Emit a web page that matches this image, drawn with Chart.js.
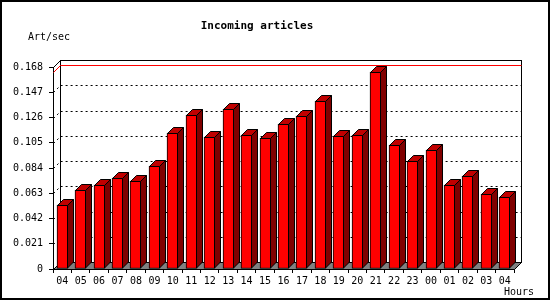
<!DOCTYPE html>
<html>
<head>
<meta charset="utf-8">
<script src="https://cdn.jsdelivr.net/npm/chart.js@4"></script>
<style>
  html, body { margin: 0; padding: 0; background: #fff; }
  #chart { display: block; }
</style>
</head>
<body>
<canvas id="chart" width="550" height="300"></canvas>
<script>
var hours = ['04', '05', '06', '07', '08', '09', '10', '11', '12', '13', '14', '15', '16',
             '17', '18', '19', '20', '21', '22', '23', '00', '01', '02', '03', '04'];
var artPerSec = [0.0535, 0.066, 0.070, 0.0757, 0.0734, 0.0856, 0.113, 0.128, 0.1097, 0.133,
                 0.1114, 0.1089, 0.1205, 0.1271, 0.1398, 0.1105, 0.1114, 0.1637, 0.1031,
                 0.0898, 0.0989, 0.0701, 0.0776, 0.0624, 0.0599];
var yMax = 0.168;
var yStep = 0.021;

var MONO = "'DejaVu Sans Mono', monospace";
var DX = 7, DY = 7;     // depth of the box
var BDX = 6, BDY = 6;   // depth of the bars

var box3d = {
    id: 'box3d',
    beforeDatasetsDraw: function (chart) {
        var ctx = chart.ctx, a = chart.chartArea, ys = chart.scales.y;
        var L = Math.round(a.left) + 0.5, R = Math.round(a.right) + 0.5;
        var T = Math.round(a.top) + 0.5, B = Math.round(a.bottom) + 0.5;
        ctx.save();
        ctx.lineWidth = 1;
        ctx.strokeStyle = '#000';
        // floor
        ctx.beginPath();
        ctx.moveTo(L, B); ctx.lineTo(R, B); ctx.lineTo(R + DX, B - DY); ctx.lineTo(L + DX, B - DY);
        ctx.closePath();
        ctx.fillStyle = '#808080';
        ctx.fill();
        ctx.stroke();
        // back wall
        ctx.strokeRect(L + DX, T - DY, R - L, B - T);
        // left top edge
        ctx.beginPath(); ctx.moveTo(L, T); ctx.lineTo(L + DX, T - DY); ctx.stroke();
        // dotted grid
        ctx.setLineDash([2, 3]);
        ys.ticks.forEach(function (t) {
            if (t.value <= 0 || t.value >= yMax - 1e-9) return;
            var py = Math.round(ys.getPixelForValue(t.value)) + 0.5;
            ctx.beginPath();
            ctx.moveTo(L, py); ctx.lineTo(L + DX, py - DY); ctx.lineTo(R + DX, py - DY);
            ctx.stroke();
        });
        ctx.setLineDash([]);
        // max line
        var my = Math.round(ys.getPixelForValue(Math.max.apply(null, artPerSec))) + 0.5;
        ctx.strokeStyle = '#ff0000';
        ctx.beginPath();
        ctx.moveTo(L, my); ctx.lineTo(L + DX, my - DY); ctx.lineTo(R + DX, my - DY);
        ctx.stroke();
        ctx.restore();

        // snap bars to whole pixels
        chart.getDatasetMeta(0).data.forEach(function (bar) {
            bar.x = Math.floor(bar.x) + 0.5;
            bar.y = Math.round(bar.y);
        });
    },
    afterDatasetsDraw: function (chart) {
        var ctx = chart.ctx;
        ctx.save();
        ctx.lineWidth = 1;
        ctx.strokeStyle = '#000';
        chart.getDatasetMeta(0).data.forEach(function (bar) {
            var xl = bar.x - bar.width / 2 + 0.5, xr = bar.x + bar.width / 2 - 0.5;
            var top = bar.y + 0.5, bot = bar.base - 0.5;
            // side
            ctx.beginPath();
            ctx.moveTo(xr, top); ctx.lineTo(xr + BDX, top - BDY); ctx.lineTo(xr + BDX, bot - BDY); ctx.lineTo(xr, bot);
            ctx.closePath();
            ctx.fillStyle = '#800000'; ctx.fill(); ctx.stroke();
            // top
            ctx.beginPath();
            ctx.moveTo(xl, top); ctx.lineTo(xl + BDX, top - BDY); ctx.lineTo(xr + BDX, top - BDY); ctx.lineTo(xr, top);
            ctx.closePath();
            ctx.fillStyle = '#c00000'; ctx.fill(); ctx.stroke();
        });
        ctx.restore();
    },
    afterDraw: function (chart) {
        var ctx = chart.ctx;
        ctx.save();
        ctx.fillStyle = '#000';
        ctx.font = '10px ' + MONO;
        ctx.textBaseline = 'middle';
        ctx.textAlign = 'left';
        ctx.fillText('Art/sec', 28, 37);
        ctx.textAlign = 'right';
        ctx.fillText('Hours', 534, 292);
        ctx.strokeStyle = '#000';
        ctx.lineWidth = 2;
        ctx.strokeRect(1, 1, 548, 298);
        ctx.restore();
    }
};

new Chart(document.getElementById('chart'), {
    type: 'bar',
    data: {
        labels: hours,
        datasets: [{
            label: 'Incoming articles',
            data: artPerSec,
            backgroundColor: '#ff0000',
            borderColor: '#000',
            borderWidth: 1,
            borderSkipped: false,
            barThickness: 11
        }]
    },
    options: {
        responsive: false,
        animation: false,
        devicePixelRatio: 1,
        layout: { padding: { right: 36 } },
        plugins: {
            legend: { display: false },
            tooltip: { enabled: false },
            title: {
                display: true,
                text: 'Incoming articles',
                color: '#000',
                font: { family: MONO, size: 11, weight: 'bold', lineHeight: 1.2 },
                padding: { top: 20, bottom: 33.8 }
            }
        },
        scales: {
            x: {
                offset: true,
                grid: { offset: true, drawOnChartArea: false, drawTicks: true, tickLength: 4, color: '#000' },
                border: { display: true, color: '#000' },
                ticks: { color: '#000', font: { family: MONO, size: 10 }, padding: 2, maxRotation: 0, autoSkip: false },
                afterFit: function (s) { s.height = 31; }
            },
            y: {
                min: 0,
                max: yMax,
                grid: { drawOnChartArea: false, drawTicks: true, tickLength: 4, color: '#000' },
                border: { display: true, color: '#000' },
                ticks: {
                    stepSize: yStep,
                    padding: 6,
                    color: '#000',
                    font: { family: MONO, size: 10 },
                    callback: function (v) { return v === 0 ? '0' : Number(v).toFixed(3); }
                },
                afterFit: function (s) { s.width = 53; }
            }
        }
    },
    plugins: [box3d]
});
</script>
</body>
</html>
